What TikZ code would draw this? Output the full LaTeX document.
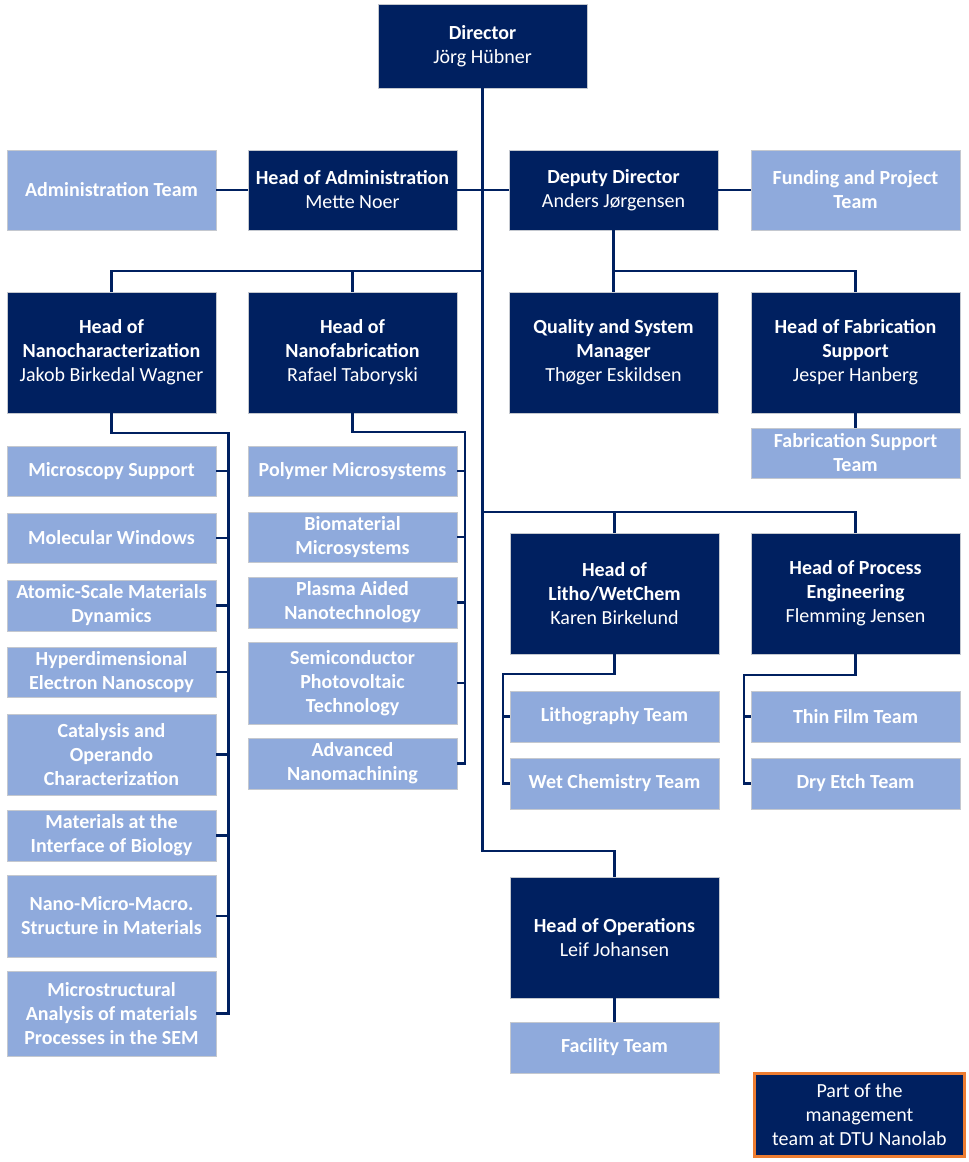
\documentclass[tikz,border=0pt]{standalone}
\usepackage{fontspec}
\setmainfont{Carlito}
\usetikzlibrary{calc}
\definecolor{navy}{HTML}{002060}
\definecolor{lightblue}{HTML}{8FAADC}
\definecolor{edgegray}{HTML}{C4C8CF}
\definecolor{legendorange}{HTML}{ED7D31}
\tikzset{
  box/.style={draw=edgegray, line width=0.8pt, text=white, align=center,
    minimum width=209pt, inner sep=2pt, font=\fontsize{20}{24}\selectfont},
  dark/.style={box, fill=navy},
  light/.style={box, fill=lightblue, font=\fontsize{20}{24}\selectfont\bfseries},
  conn/.style={draw=navy, line width=2.8pt},
}
\begin{document}
\begin{tikzpicture}[x=1pt,y=-1pt]
\useasboundingbox (0,0) rectangle (969,1162);
% top
\node[dark, minimum height=84pt] (dir) at (482.5,46) {\textbf{Director}\\Jörg Hübner};
\node[light, minimum height=80pt] (admteam) at (111.5,190) {Administration Team};
\node[dark, minimum height=80pt] (headadm) at (352.5,190) {\textbf{Head of Administration}\\Mette Noer};
\node[dark, minimum height=80pt] (deputy) at (613.5,190) {\textbf{Deputy Director}\\Anders Jørgensen};
\node[light, minimum height=80pt] (funding) at (855.5,190) {Funding and Project\\Team};
% heads row
\node[dark, minimum height=121pt] (nanochar) at (111.5,352.5) {\textbf{Head of}\\\textbf{Nanocharacterization}\\Jakob Birkedal Wagner};
\node[dark, minimum height=121pt] (nanofab) at (352.5,352.5) {\textbf{Head of}\\\textbf{Nanofabrication}\\Rafael Taboryski};
\node[dark, minimum height=121pt] (quality) at (613.5,352.5) {\textbf{Quality and System}\\\textbf{Manager}\\Thøger Eskildsen};
\node[dark, minimum height=121pt] (fabsup) at (855.5,352.5) {\textbf{Head of Fabrication}\\\textbf{Support}\\Jesper Hanberg};
\node[light, minimum height=50pt] (fabteam) at (855.5,453) {Fabrication Support\\Team};
% litho / process
\node[dark, minimum height=121pt] (litho) at (614.5,593.5) {\textbf{Head of}\\\textbf{Litho/WetChem}\\Karen Birkelund};
\node[dark, minimum height=121pt] (process) at (855.5,593.5) {\textbf{Head of Process}\\\textbf{Engineering}\\Flemming Jensen};
\node[light, minimum height=51pt] (lithoteam) at (614.5,716.5) {Lithography Team};
\node[light, minimum height=51pt] (wetteam) at (614.5,783.5) {Wet Chemistry Team};
\node[light, minimum height=51pt] (thin) at (855.5,716.5) {Thin Film Team};
\node[light, minimum height=51pt] (dry) at (855.5,783.5) {Dry Etch Team};
% operations
\node[dark, minimum height=121pt] (ops) at (614.5,937.5) {\textbf{Head of Operations}\\Leif Johansen};
\node[light, minimum height=51pt] (facility) at (614.5,1047.5) {Facility Team};
% left column
\node[light, minimum height=50pt] (m1) at (111.5,471) {Microscopy Support};
\node[light, minimum height=50pt] (m2) at (111.5,538) {Molecular Windows};
\node[light, minimum height=51pt] (m3) at (111.5,605.5) {Atomic-Scale Materials\\Dynamics};
\node[light, minimum height=50pt] (m4) at (111.5,672) {Hyperdimensional\\Electron Nanoscopy};
\node[light, minimum height=81pt] (m5) at (111.5,754.5) {Catalysis and\\Operando\\Characterization};
\node[light, minimum height=51pt] (m6) at (111.5,835.5) {Materials at the\\Interface of Biology};
\node[light, minimum height=82pt] (m7) at (111.5,916) {Nano-Micro-Macro.\\Structure in Materials};
\node[light, minimum height=85pt] (m8) at (111.5,1013.5) {Microstructural\\Analysis of materials\\Processes in the SEM};
% middle column
\node[light, minimum height=50pt] (p1) at (352.5,471) {Polymer Microsystems};
\node[light, minimum height=50pt] (p2) at (352.5,537) {Biomaterial\\Microsystems};
\node[light, minimum height=51pt] (p3) at (352.5,602.5) {Plasma Aided\\Nanotechnology};
\node[light, minimum height=82pt] (p4) at (352.5,683) {Semiconductor\\Photovoltaic\\Technology};
\node[light, minimum height=51pt] (p5) at (352.5,763.5) {Advanced\\Nanomachining};
% legend
\node[draw=legendorange, line width=3pt, fill=navy, text=white, align=center,
  minimum width=210pt, minimum height=83pt, font=\fontsize{20}{24}\selectfont] (legend) at (859.5,1115)
  {Part of the\\management\\team at DTU Nanolab};
% junctions
\coordinate (bus1) at (482.5,271);
\coordinate (bus2) at (613.5,271);
\coordinate (bus3) at (482.5,512);
\coordinate (bus4) at (482.5,851);
\coordinate (lb) at (228.5,433);
\coordinate (mb) at (465,432);
\coordinate (lw) at (503,674);
\coordinate (pw) at (744,675);
% connectors
\draw[conn] (dir.south) -- (bus4) -| (ops.north);
\draw[conn] (admteam.east) -- (headadm.west);
\draw[conn] (headadm.east) -- (deputy.west);
\draw[conn] (deputy.east) -- (funding.west);
\draw[conn] (nanochar.north) |- (bus1);
\draw[conn] (nanofab.north) -- (nanofab.north |- bus1);
\draw[conn] (deputy.south) -- (quality.north);
\draw[conn] (bus2) -| (fabsup.north);
\draw[conn] (fabsup.south) -- (fabteam.north);
\draw[conn] (bus3) -| (process.north);
\draw[conn] (litho.north) -- (litho.north |- bus3);
\draw[conn] (litho.south) |- (lw) |- (wetteam.west);
\draw[conn] (lithoteam.west) -- (lithoteam.west -| lw);
\draw[conn] (process.south) |- (pw) |- (dry.west);
\draw[conn] (thin.west) -- (thin.west -| pw);
\draw[conn] (ops.south) -- (facility.north);
\draw[conn] (nanochar.south) |- (lb) -- (lb |- m8.east) -- (m8.east);
\foreach \n in {m1,m2,m3,m4,m5,m6,m7}
  \draw[conn] (\n.east) -- (\n.east -| lb);
\draw[conn] (nanofab.south) |- (mb) -- (mb |- p5.east) -- (p5.east);
\foreach \n in {p1,p2,p3,p4}
  \draw[conn] (\n.east) -- (\n.east -| mb);
\end{tikzpicture}
\end{document}
